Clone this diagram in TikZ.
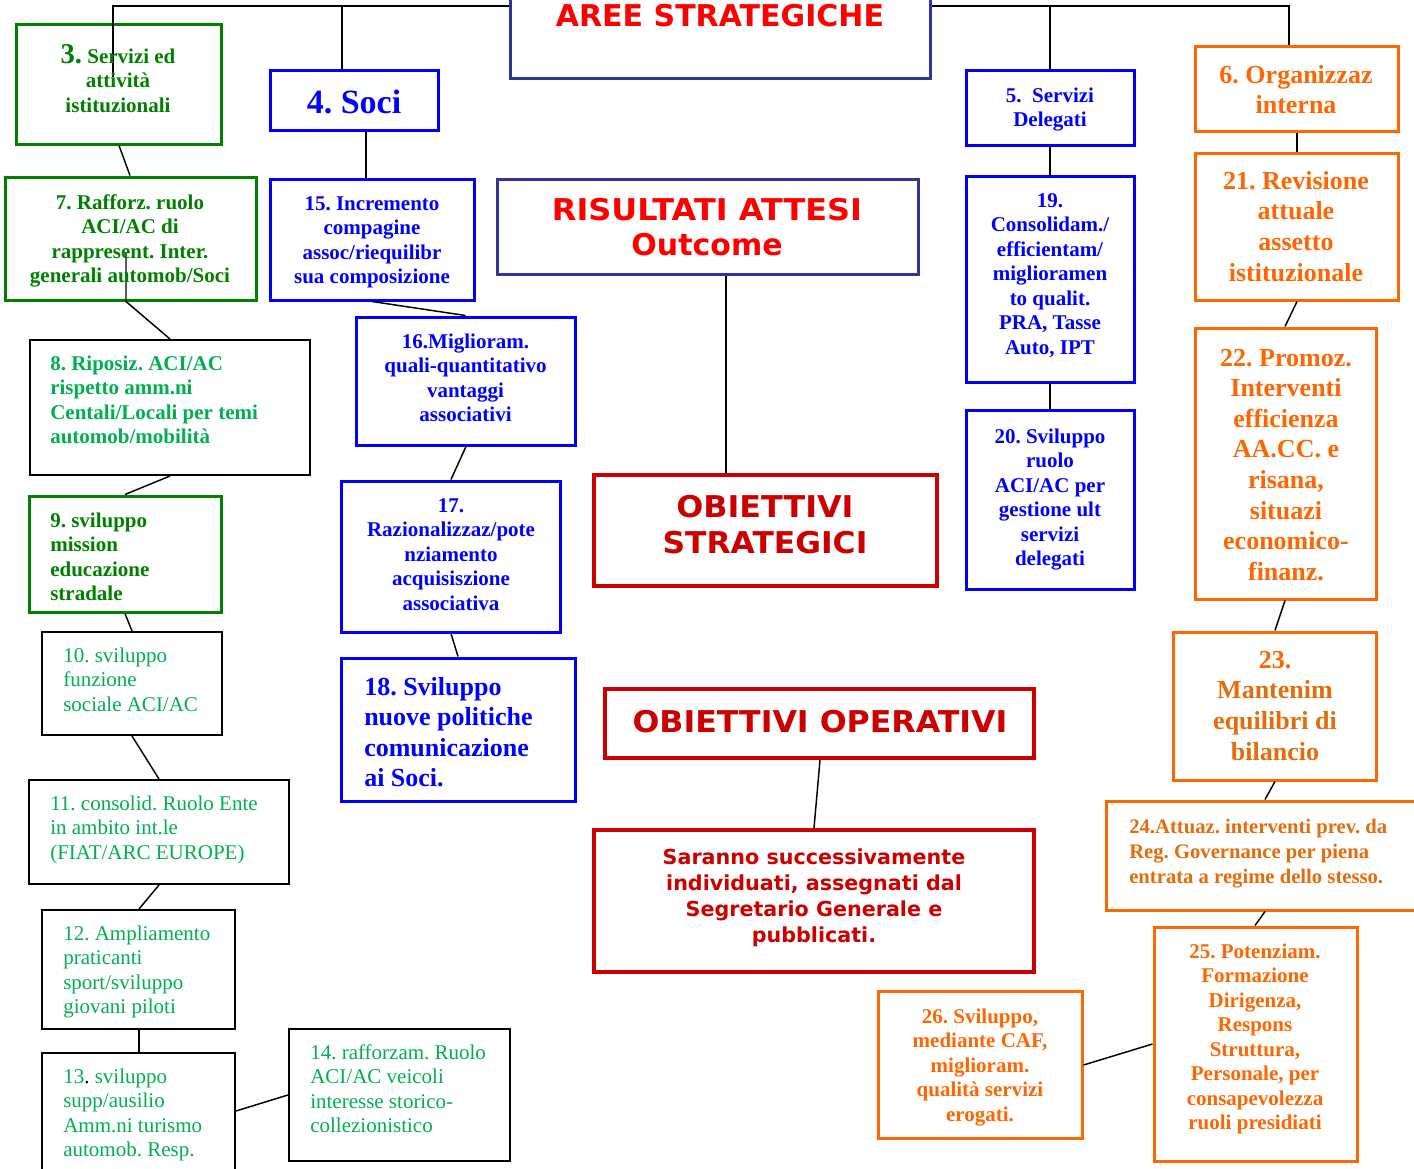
\documentclass[tikz,border=0pt]{standalone}
\usepackage{fontspec}
\usepackage{graphicx}
\setmainfont{Liberation Serif}
\newfontfamily\vsans{DejaVu Sans}
\usetikzlibrary{fit}
\definecolor{gdark}{HTML}{008000}
\definecolor{glight}{HTML}{00B050}
\definecolor{bblue}{HTML}{0000FF}
\definecolor{navy}{HTML}{333399}
\definecolor{rred}{HTML}{FF0000}
\definecolor{dred}{HTML}{CC0000}
\definecolor{orng}{HTML}{FF6600}
\definecolor{orngd}{HTML}{E46C0A}
\newcommand\mylines[2]{\begin{tabular}[t]{@{}#1@{}}#2\end{tabular}}
\newcommand\fn{\fontsize{15.75}{18.4}\selectfont}
\newcommand\fb{\fontsize{19.5}{23}\selectfont}
\newcommand\widen[2]{\scalebox{#1}[1]{#2}}
\frenchspacing
\tikzset{
  gbox/.style={draw=gdark, line width=2.25pt, inner sep=0pt},
  bbox/.style={draw=bblue, line width=2.25pt, inner sep=0pt},
  kbox/.style={draw=black, line width=1.5pt, inner sep=0pt},
  obox/.style={draw=orng, line width=2.25pt, inner sep=0pt},
  nbox/.style={draw=navy, line width=2.25pt, inner sep=0pt},
  rbox/.style={draw=dred, line width=3pt, inner sep=0pt},
  conn/.style={draw=black, line width=1.1pt},
  tc/.style={inner sep=0pt, anchor=base},
  tl/.style={inner sep=0pt, anchor=base west},
}
\begin{document}
\begin{tikzpicture}[x=0.75pt,y=-0.75pt]
\useasboundingbox (0,0) rectangle (1414,1168);
\clip (0,0) rectangle (1414,1168);
\fill[white] (0,0) rectangle (1414,1168);
% boxes
\node[nbox, fit={(510,-66) (930,78)}] (aree) {};
\node[gbox, fit={(16,24) (221,144)}] (b3) {};
\node[bbox, fit={(270,70) (438,130)}] (b4) {};
\node[bbox, fit={(966,70) (1134,145)}] (b5) {};
\node[obox, fit={(1195,46) (1398,131)}] (b6) {};
\node[gbox, fit={(5,177) (256,300)}] (b7) {};
\node[bbox, fit={(270,179) (474,300)}] (b15) {};
\node[nbox, fit={(497,179) (918,274)}] (ris) {};
\node[bbox, fit={(966,176) (1134,382)}] (b19) {};
\node[obox, fit={(1195,153) (1398,300)}] (b21) {};
\node[kbox, fit={(30,340) (310,475)}] (b8) {};
\node[bbox, fit={(356,317) (575,445)}] (b16) {};
\node[obox, fit={(1195,328) (1376,599)}] (b22) {};
\node[bbox, fit={(966,410) (1134,589)}] (b20) {};
\node[rbox, fit={(594,475) (937,586)}] (ost) {};
\node[gbox, fit={(29,496) (221,612)}] (b9) {};
\node[bbox, fit={(341,481) (560,632)}] (b17) {};
\node[kbox, fit={(42,632) (222,735)}] (b10) {};
\node[bbox, fit={(341,658) (575,801)}] (b18) {};
\node[rbox, fit={(605,689) (1034,758)}] (oop) {};
\node[obox, fit={(1173,632) (1376,780)}] (b23) {};
\node[kbox, fit={(29,780) (289,884)}] (b11) {};
\node[obox, fit={(1106,801) (1430,910)}] (b24) {};
\node[rbox, fit={(594,830) (1034,972)}] (sar) {};
\node[kbox, fit={(42,910) (235,1029)}] (b12) {};
\node[obox, fit={(1154,927) (1357,1161)}] (b25) {};
\node[obox, fit={(878,991) (1082,1138)}] (b26) {};
\node[kbox, fit={(42,1053) (235,1190)}] (b13) {};
\node[kbox, fit={(289,1029) (510,1161)}] (b14) {};
% connectors
\coordinate (k3) at (113,77);
\coordinate (k7) at (126,252);
\draw[conn] (k3) |- (aree.west);
\draw[conn] (342,0 |- b4.north) |- (aree.west);
\draw[conn] (b5.north) |- (aree.east);
\draw[conn] (1289,0 |- b6.north) |- (aree.east);
\draw[conn] (119,0 |- b3.south) -- (130,0 |- b7.north);
\draw[conn] (k7) -- (126,0 |- b7.south) -- (170,0 |- b8.north);
\draw[conn] (170,0 |- b8.south) -- (125,0 |- b9.north);
\draw[conn] (125,0 |- b9.south) -- (132,0 |- b10.north);
\draw[conn] (132,0 |- b10.south) -- (159,0 |- b11.north);
\draw[conn] (159,0 |- b11.south) -- (139,0 |- b12.north);
\draw[conn] (139,0 |- b12.south) -- (139,0 |- b13.north);
\draw[conn] (b13.east |- 0,1111) -- (b14.west |- 0,1095);
\draw[conn] (366,0 |- b4.south) -- (366,0 |- b15.north);
\draw[conn] (372,0 |- b15.south) -- (b16.north);
\draw[conn] (466,0 |- b16.south) -- (451,0 |- b17.north);
\draw[conn] (451,0 |- b17.south) -- (458,0 |- b18.north);
\draw[conn] (726,0 |- ris.south) -- (726,0 |- ost.north);
\draw[conn] (820,0 |- oop.south) -- (814,0 |- sar.north);
\draw[conn] (b5.south) -- (b19.north);
\draw[conn] (b19.south) -- (b20.north);
\draw[conn] (1297,0 |- b6.south) -- (1297,0 |- b21.north);
\draw[conn] (1297,0 |- b21.south) -- (1285,0 |- b22.north);
\draw[conn] (1285,0 |- b22.south) -- (1275,0 |- b23.north);
\draw[conn] (1275,0 |- b23.south) -- (1265,0 |- b24.north);
\draw[conn] (1265,0 |- b24.south) -- (1255,0 |- b25.north);
\draw[conn] (b26.east |- 0,1065) -- (b25.west |- 0,1044);
% texts
\node[tc, text=rred, font=\vsans\bfseries\fontsize{22.5}{26}\selectfont] (ta) at (720,26) {AREE STRATEGICHE};
\node[tc, text=rred, font=\vsans\bfseries\fontsize{22.5}{26.25}\selectfont] (tr) at (707,220) {\mylines{c}{\widen{1.065}{RISULTATI ATTESI}\\Outcome}};
\node[tc, text=dred, font=\vsans\bfseries\fontsize{22.5}{27}\selectfont] (to) at (765,517) {\mylines{c}{\widen{1.06}{OBIETTIVI}\\\widen{1.045}{STRATEGICI}}};
\node[tc, text=dred, font=\vsans\bfseries\fontsize{22.5}{27}\selectfont] (tp) at (820,732) {\widen{1.054}{OBIETTIVI OPERATIVI}};
\node[tc, text=dred, font=\vsans\bfseries\fontsize{15.5}{19.5}\selectfont] (ts) at (814,864) {\mylines{c}{Saranno successivamente\\individuati, assegnati dal\\Segretario Generale e\\pubblicati.}};
\node[tc, text=gdark, font=\bfseries\fn] (t3) at (118,63) {\mylines{c}{{\fontsize{21.5}{20}\selectfont 3.} Servizi ed\\attività\\istituzionali}};
\node[tc, text=bblue, font=\bfseries\fontsize{25.5}{30}\selectfont] (t4) at (354,113) {4. Soci};
\node[tc, text=gdark, font=\bfseries\fn] (t7) at (130,209) {\mylines{c}{7. Rafforz. ruolo\\ACI/AC di\\rappresent. Inter.\\generali automob/Soci}};
\node[tl, text=glight, font=\bfseries\fn] (t8) at (50,370) {\mylines{l}{8. Riposiz. ACI/AC\\rispetto amm.ni\\Centali/Locali per temi\\automob/mobilità}};
\node[tl, text=gdark, font=\bfseries\fn] (t9) at (50,527) {\mylines{l}{9. sviluppo\\mission\\educazione\\stradale}};
\node[tl, text=glight, font=\fn] (t10) at (63,662) {\mylines{l}{10. sviluppo\\funzione\\sociale ACI/AC}};
\node[tl, text=glight, font=\fn] (t11) at (50,810) {\mylines{l}{11. consolid. Ruolo Ente\\in ambito int.le\\(FIAT/ARC EUROPE)}};
\node[tl, text=glight, font=\fn] (t12) at (63,940) {\mylines{l}{12. Ampliamento\\praticanti\\sport/sviluppo\\giovani piloti}};
\node[tl, text=glight, font=\fn] (t13) at (63,1083) {\mylines{l}{13{\color{black}.} sviluppo\\supp/ausilio\\Amm.ni turismo\\automob. Resp.}};
\node[tl, text=glight, font=\fn] (t14) at (310,1059) {\mylines{l}{14. rafforzam. Ruolo\\ACI/AC veicoli\\interesse storico-\\collezionistico}};
\node[tc, text=bblue, font=\bfseries\fn] (t15) at (372,210) {\mylines{c}{15. Incremento\\compagine\\assoc/riequilibr\\sua composizione}};
\node[tc, text=bblue, font=\bfseries\fn] (t16) at (465.5,348) {\mylines{c}{16.Miglioram.\\quali-quantitativo\\vantaggi\\associativi}};
\node[tc, text=bblue, font=\bfseries\fn] (t17) at (451,512) {\mylines{c}{17.\\Razionalizzaz/pote\\nziamento\\acquisiszione\\associativa}};
\node[tl, text=bblue, font=\bfseries\fontsize{19.5}{22.9}\selectfont] (t18) at (364,695) {\mylines{l}{18. Sviluppo\\nuove politiche\\comunicazione\\ai Soci.}};
\node[tc, text=bblue, font=\bfseries\fn] (t5) at (1050,102) {\mylines{c}{5.\ \ Servizi\\Delegati}};
\node[tc, text=bblue, font=\bfseries\fn] (t19) at (1050,207) {\mylines{c}{19.\\Consolidam./\\efficientam/\\miglioramen\\to qualit.\\PRA, Tasse\\Auto, IPT}};
\node[tc, text=bblue, font=\bfseries\fn] (t20) at (1050,443) {\mylines{c}{20. Sviluppo\\ruolo\\ACI/AC per\\gestione ult\\servizi\\delegati}};
\node[tc, text=orng, font=\bfseries\fontsize{19.5}{22.5}\selectfont] (t6) at (1296,83) {\mylines{c}{6. Organizzaz\\interna}};
\node[tc, text=orng, font=\bfseries\fontsize{19.5}{23.2}\selectfont] (t21) at (1296,189) {\mylines{c}{21. Revisione\\attuale\\assetto\\istituzionale}};
\node[tc, text=orng, font=\bfseries\fontsize{19.5}{22.95}\selectfont] (t22) at (1286,366) {\mylines{c}{22. Promoz.\\Interventi\\efficienza\\AA.CC. e\\risana,\\situazi\\economico-\\finanz.}};
\node[tc, text=orng, font=\bfseries\fontsize{19.5}{23.2}\selectfont] (t23) at (1275,668) {\mylines{c}{23.\\\textcolor{orngd}{Mantenim}\\\textcolor{orngd}{equilibri di}\\\textcolor{orngd}{bilancio}}};
\node[tl, text=orngd, font=\bfseries\fontsize{15.5}{18.75}\selectfont] (t24) at (1129,833) {\mylines{l}{24.Attuaz. interventi prev. da\\Reg. Governance per piena\\entrata a regime dello stesso.}};
\node[tc, text=orng, font=\bfseries\fn] (t25) at (1255,958) {\mylines{c}{25. Potenziam.\\Formazione\\Dirigenza,\\Respons\\Struttura,\\Personale, per\\consapevolezza\\ruoli presidiati}};
\node[tc, text=orng, font=\bfseries\fn] (t26) at (980,1023) {\mylines{c}{26. Sviluppo,\\mediante CAF,\\miglioram.\\qualità servizi\\erogati.}};
\end{tikzpicture}
\end{document}
